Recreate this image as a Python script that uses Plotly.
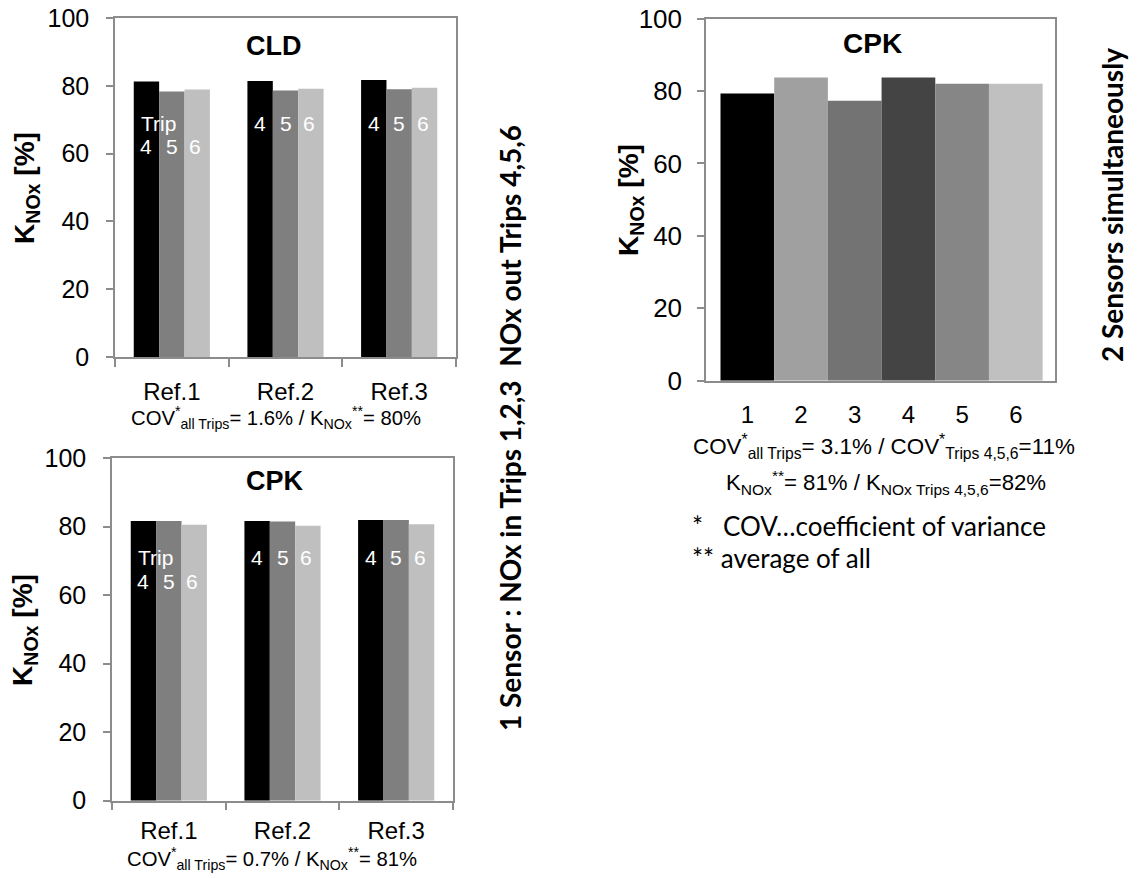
import plotly.graph_objects as go

# ---------------- data ----------------
refs = ["Ref.1", "Ref.2", "Ref.3"]
trip_names = ["4", "5", "6"]

cld_trip4 = [81.3, 81.4, 81.7]
cld_trip5 = [78.3, 78.6, 79.0]
cld_trip6 = [78.9, 79.1, 79.4]

cpk_trip4 = [81.6, 81.6, 81.9]
cpk_trip5 = [81.6, 81.5, 81.9]
cpk_trip6 = [80.5, 80.2, 80.7]

trips_2s = ["1", "2", "3", "4", "5", "6"]
cpk_2s = [79.3, 83.7, 77.3, 83.7, 82.0, 82.0]

y_ticks = [0, 20, 40, 60, 80, 100]

# ---------------- styles ----------------
W, H = 1145, 878
AX = "#8c8c8c"
FONT = "Liberation Sans, Arial, sans-serif"
CAL = "Lato, Open Sans, sans-serif"
trip_colors = ["#000000", "#7f7f7f", "#bfbfbf"]
colors_2s = ["#000000", "#a0a0a0", "#737373", "#444444", "#868686", "#c0c0c0"]


def px_x(a, b):
    return [a / W, b / W]


def px_y(top, bottom):
    return [1 - bottom / H, 1 - top / H]


fig = go.Figure()

for vals, col, nm in zip([cld_trip4, cld_trip5, cld_trip6], trip_colors, trip_names):
    fig.add_trace(go.Bar(x=refs, y=vals, marker=dict(color=col, line=dict(width=0)),
                         name="Trip " + nm, xaxis="x", yaxis="y", showlegend=False))
for vals, col, nm in zip([cpk_trip4, cpk_trip5, cpk_trip6], trip_colors, trip_names):
    fig.add_trace(go.Bar(x=refs, y=vals, marker=dict(color=col, line=dict(width=0)),
                         name="Trip " + nm, xaxis="x2", yaxis="y2", showlegend=False))
fig.add_trace(go.Bar(x=trips_2s, y=cpk_2s, width=[1] * len(trips_2s),
                     marker=dict(color=colors_2s, line=dict(width=0)),
                     xaxis="x3", yaxis="y3", showlegend=False))

yax = dict(range=[0, 100], tickvals=y_ticks, ticks="outside", ticklen=7, tickwidth=1.5,
           tickcolor=AX, showline=True, linecolor=AX, linewidth=1.5, mirror=True,
           showgrid=False, zeroline=False, tickfont=dict(family=FONT, size=25, color="#000"),
           ticklabelstandoff=12, fixedrange=True, automargin=False)
xax = dict(type="category", tickson="boundaries", ticks="outside", ticklen=8, tickwidth=1.5,
           tickcolor=AX, showline=True, linecolor=AX, linewidth=1.5, mirror=True,
           showgrid=False, zeroline=False, tickfont=dict(family=FONT, size=24, color="#000"),
           ticklabelstandoff=12, fixedrange=True, automargin=False)

fig.update_layout(
    template="none",
    width=W, height=H, margin=dict(l=0, r=0, t=0, b=0, autoexpand=False),
    paper_bgcolor="white", plot_bgcolor="white",
    barmode="group", bargap=0.33, bargroupgap=0,
    xaxis=dict(xax, domain=px_x(115, 456), anchor="y"),
    yaxis=dict(yax, domain=px_y(18, 357), anchor="x"),
    xaxis2=dict(xax, domain=px_x(112, 453), anchor="y2", ticklabelstandoff=8),
    yaxis2=dict(yax, domain=px_y(458, 800.7), anchor="x2"),
    xaxis3=dict(xax, domain=px_x(706, 1055), anchor="y3", tickson="labels", ticks="",
                range=[-0.77, 5.73]),
    yaxis3=dict(yax, domain=px_y(18.6, 380.7), anchor="x3", ticklabelstandoff=10,
                tickfont=dict(family=FONT, size=26, color="#000")),
    xaxis4=dict(domain=px_x(706, 1055), anchor="y3", overlaying="x3", range=[0, 1],
                tickvals=[0, 1], ticks="outside", ticklen=8, tickwidth=1.5, tickcolor=AX,
                showticklabels=False, showline=False, showgrid=False, zeroline=False,
                automargin=False),
)

ann = []


def txt(x, y, text, size, xref="paper", yref="paper", bold=False, color="#000",
        family=FONT, angle=0, xanchor="center", yanchor="middle", xshift=0):
    t = "<b>" + text + "</b>" if bold else text
    ann.append(dict(x=x, y=y, xref=xref, yref=yref, text=t, showarrow=False,
                    font=dict(family=family, size=size, color=color), textangle=angle,
                    xanchor=xanchor, yanchor=yanchor, xshift=xshift))


# titles
txt(274 / W, 1 - 46 / H, "CLD", 27, bold=True)
txt(275 / W, 1 - 481 / H, "CPK", 27, bold=True)
txt(872 / W, 1 - 43 / H, "CPK", 28, bold=True)

# y titles
ytitle = "K<sub>NOx</sub> [%]"
txt(26 / W, 1 - 188 / H, ytitle, 28, bold=True, angle=-90)
txt(24 / W, 1 - 630 / H, ytitle, 28, bold=True, angle=-90)
txt(630 / W, 1 - 200 / H, ytitle, 28, bold=True, angle=-90)

# trip labels inside bars
bw = 25.4
for xr, yr, yl, yt in [("x", "y", 62, 69), ("x2", "y2", 64, 71)]:
    for i, r in enumerate(refs):
        yy = yl if i == 0 else yt
        for k, nm in enumerate(trip_names):
            txt(r, yy, nm, 21, xref=xr, yref=yr, color="white", xshift=(k - 1) * bw - (2 if k == 2 else 0))
        if i == 0:
            txt(r, yt, "Trip", 21, xref=xr, yref=yr, color="white", xshift=-13)

# statistics under left charts
txt(276 / W, 1 - 417 / H,
    "COV<sup>*</sup><sub>all Trips</sub>= 1.6% / K<sub>NOx</sub><sup>**</sup>= 80%", 20.3)
txt(272 / W, 1 - 858 / H,
    "COV<sup>*</sup><sub>all Trips</sub>= 0.7% / K<sub>NOx</sub><sup>**</sup>= 81%", 20.3)

# statistics under right chart
txt(884 / W, 1 - 446 / H,
    "COV<sup>*</sup><sub>all Trips</sub>= 3.1% / COV<sup>*</sup><sub>Trips 4,5,6</sub>=11%", 22.4)
txt(886 / W, 1 - 482 / H,
    "K<sub>NOx</sub><sup>**</sup>= 81% / K<sub>NOx Trips 4,5,6</sub>=82%", 22.2)
txt(690 / W, 1 - 526 / H, "*   COV…coefficient of variance", 26, family=CAL, xanchor="left")
txt(690 / W, 1 - 558 / H, "** average of all", 26, family=CAL, xanchor="left")

# side labels
txt(510 / W, 1 - 428 / H, "1 Sensor : NOx in Trips 1,2,3  NOx out Trips 4,5,6", 28,
    bold=True, family=CAL, angle=-90)
txt(1112 / W, 1 - 205 / H, "2 Sensors simultaneously", 28, bold=True, family=CAL, angle=-90)

fig.update_layout(annotations=ann)
fig.write_html("out.html")
